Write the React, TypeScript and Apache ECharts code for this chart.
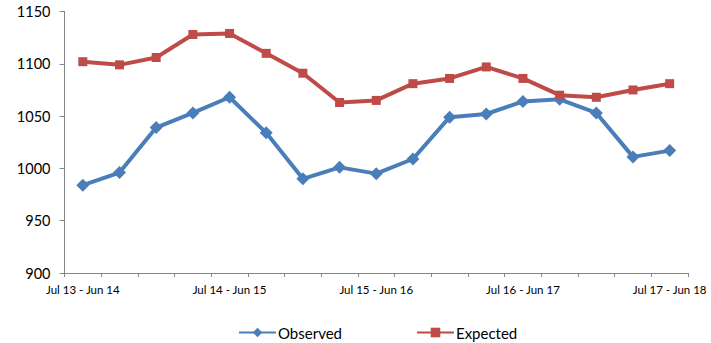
import React, { useEffect, useRef } from "react";
import * as echarts from "echarts";

const categories = [
  "Jul 13 - Jun 14", "c2", "c3", "c4",
  "Jul 14 - Jun 15", "c6", "c7", "c8",
  "Jul 15 - Jun 16", "c10", "c11", "c12",
  "Jul 16 - Jun 17", "c14", "c15", "c16",
  "Jul 17 - Jun 18",
];
const observed = [984, 996, 1039, 1053, 1068, 1034, 990, 1001, 995, 1009, 1049, 1052, 1064, 1066, 1053, 1011, 1017];
const expected = [1102, 1099, 1106, 1128, 1129, 1110, 1091, 1063, 1065, 1081, 1086, 1097, 1086, 1070, 1068, 1075, 1081];

const FONT = "Lato, 'Open Sans', sans-serif";

export default function App() {
  const ref = useRef<HTMLDivElement>(null);
  useEffect(() => {
    if (!ref.current) return;
    const chart = echarts.init(ref.current, undefined, { renderer: "svg" });
    chart.setOption({
      animation: false,
      textStyle: { fontFamily: FONT },
      grid: { left: 64.5, right: 23, top: 11.5, bottom: 70 },
      legend: {
        top: 320,
        left: 233,
        itemWidth: 37,
        itemHeight: 12,
        itemGap: 74,
        textStyle: { fontSize: 15, color: "#000", fontFamily: FONT, padding: [0, 0, 0, -3] },
        data: ["Observed", "Expected"],
      },
      xAxis: {
        type: "category",
        data: categories,
        boundaryGap: true,
        axisLine: { lineStyle: { color: "#868686", width: 1 } },
        axisTick: { show: true, interval: 0, length: 4, lineStyle: { color: "#868686" } },
        axisLabel: {
          interval: 3,
          color: "#000",
          fontSize: 11.5,
          fontFamily: FONT,
          margin: 10,
        },
        splitLine: { show: false },
      },
      yAxis: {
        type: "value",
        min: 900,
        max: 1150,
        interval: 50,
        axisLine: { show: true, lineStyle: { color: "#868686", width: 1 } },
        axisTick: { show: true, length: 5, lineStyle: { color: "#868686" } },
        axisLabel: {
          color: "#000",
          fontSize: 14.5,
          fontFamily: FONT,
          margin: 14,
          formatter: (v: number) => String(v),
        },
        splitLine: { show: false },
      },
      series: [
        {
          name: "Observed",
          type: "line",
          data: observed,
          symbol: "diamond",
          symbolSize: 13,
          itemStyle: { color: "#4A7EBB" },
          lineStyle: { color: "#4A7EBB", width: 4 },
        },
        {
          name: "Expected",
          type: "line",
          data: expected,
          symbol: "rect",
          symbolSize: 9,
          itemStyle: { color: "#BE4B48" },
          lineStyle: { color: "#BE4B48", width: 4 },
        },
      ],
    });
    return () => chart.dispose();
  }, []);
  return (
    <div
      ref={ref}
      style={{ position: "absolute", left: 0, top: 0, width: 711, height: 343, background: "#fff" }}
    />
  );
}
